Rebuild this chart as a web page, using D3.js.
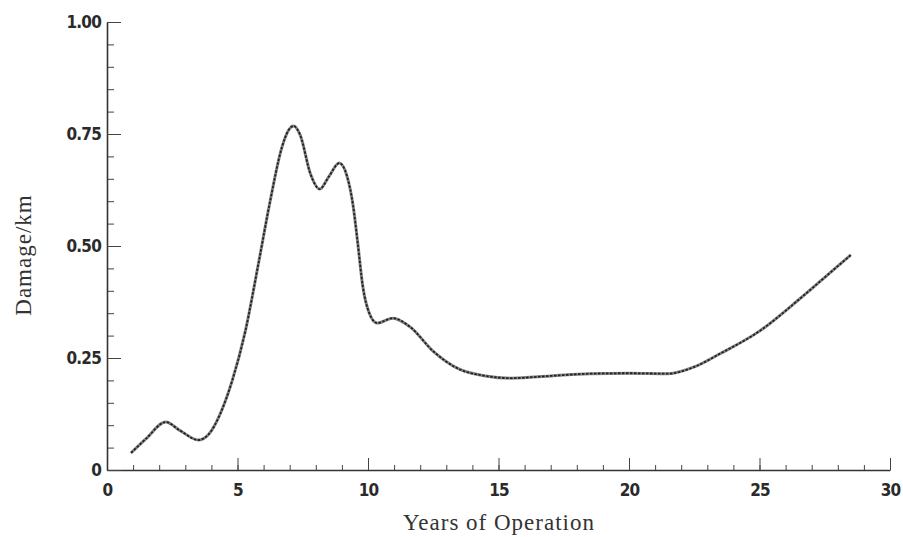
<!DOCTYPE html>
<html>
<head>
<meta charset="utf-8">
<script src="https://cdn.jsdelivr.net/npm/d3@7"></script>
<style>
  body { margin: 0; background: #fff; }
  .tick text { font-family: "Liberation Sans Narrow", "DejaVu Sans Condensed", sans-serif; font-weight: bold; font-size: 17px; fill: #2a2a2a; letter-spacing: -0.8px; }
  .title { font-family: "Liberation Serif", "DejaVu Serif", serif; fill: #333; }
</style>
</head>
<body>
<div id="chart"></div>
<script>
// years of operation vs damage per km
const years  = [0.92, 1.5, 2.25, 2.8, 3.5, 3.9, 4.35, 4.8, 5.3, 5.8, 6.25, 6.7, 6.95, 7.15, 7.4, 7.8, 8.15, 8.5, 8.9, 9.2, 9.43, 9.6, 9.8, 10.05, 10.35, 10.95, 11.6, 12.5, 13.5, 14.5, 15.5, 17, 18.5, 20, 21.5, 22.5, 23.5, 25, 26.5, 27.5, 28.5];
const damage = [0.038, 0.07, 0.107, 0.088, 0.067, 0.08, 0.127, 0.2, 0.31, 0.46, 0.6, 0.72, 0.758, 0.768, 0.748, 0.66, 0.627, 0.655, 0.685, 0.655, 0.59, 0.51, 0.41, 0.35, 0.328, 0.339, 0.32, 0.265, 0.225, 0.21, 0.205, 0.21, 0.215, 0.216, 0.215, 0.23, 0.26, 0.31, 0.38, 0.43, 0.48];
const xTicks = [0, 5, 10, 15, 20, 25, 30];
const yTicks = [0, 0.25, 0.5, 0.75, 1.0];
const yTickLabels = ["0", "0.25", "0.50", "0.75", "1.00"];

const W = 903, H = 537;
const margin = {top: 22, right: 13, bottom: 67, left: 107};

const svg = d3.select("#chart").append("svg")
    .attr("width", W)
    .attr("height", H);

const x = d3.scaleLinear().domain([0, 30]).range([margin.left, W - margin.right]);
const y = d3.scaleLinear().domain([0, 1]).range([H - margin.bottom, margin.top]);

// minor ticks (no labels)
svg.append("g")
    .attr("transform", `translate(0,${y(0)})`)
    .call(d3.axisTop(x).ticks(30).tickSize(5).tickFormat(""))
    .call(g => g.select(".domain").remove())
    .call(g => g.selectAll("line").attr("stroke", "#444"));
svg.append("g")
    .attr("transform", `translate(${x(0)},0)`)
    .call(d3.axisRight(y).ticks(20).tickSize(7).tickFormat(""))
    .call(g => g.select(".domain").remove())
    .call(g => g.selectAll("line").attr("stroke", "#444"));

// x axis
svg.append("g")
    .attr("transform", `translate(0,${y(0)})`)
    .call(d3.axisBottom(x).tickValues(xTicks).tickSize(0).tickPadding(14).tickFormat(d3.format("d")))
    .call(g => g.select(".domain").attr("stroke", "#333").attr("stroke-width", 1.6))
    .call(g => g.selectAll(".tick").append("line")
        .attr("y2", -12).attr("stroke", "#444"));

// y axis
svg.append("g")
    .attr("transform", `translate(${x(0)},0)`)
    .call(d3.axisLeft(y).tickValues(yTicks).tickSize(0).tickPadding(6)
        .tickFormat((d, i) => yTickLabels[i]))
    .call(g => g.select(".domain").attr("stroke", "#333").attr("stroke-width", 1.6))
    .call(g => g.selectAll(".tick").append("line")
        .attr("x2", 14).attr("stroke", "#444"));

const pts = years.map((d, i) => [d, damage[i]]);
const line = d3.line()
    .x(d => x(d[0]))
    .y(d => y(d[1]))
    .curve(d3.curveMonotoneX);

svg.append("path")
    .datum(pts)
    .attr("d", line)
    .attr("fill", "none")
    .attr("stroke", "#888")
    .attr("stroke-width", 3);
svg.append("path")
    .datum(pts)
    .attr("d", line)
    .attr("fill", "none")
    .attr("stroke", "#222")
    .attr("stroke-width", 1.8)
    .attr("stroke-dasharray", "2.5,1.5");

// axis titles
svg.append("text")
    .attr("class", "title")
    .attr("x", 499)
    .attr("y", 530)
    .attr("text-anchor", "middle")
    .style("font-size", "23px")
    .style("letter-spacing", "1px")
    .text("Years of Operation");

svg.append("text")
    .attr("class", "title")
    .attr("transform", "translate(31,255) rotate(-90)")
    .attr("text-anchor", "middle")
    .style("font-size", "23px")
    .style("letter-spacing", "1px")
    .text("Damage/km");
</script>
</body>
</html>
